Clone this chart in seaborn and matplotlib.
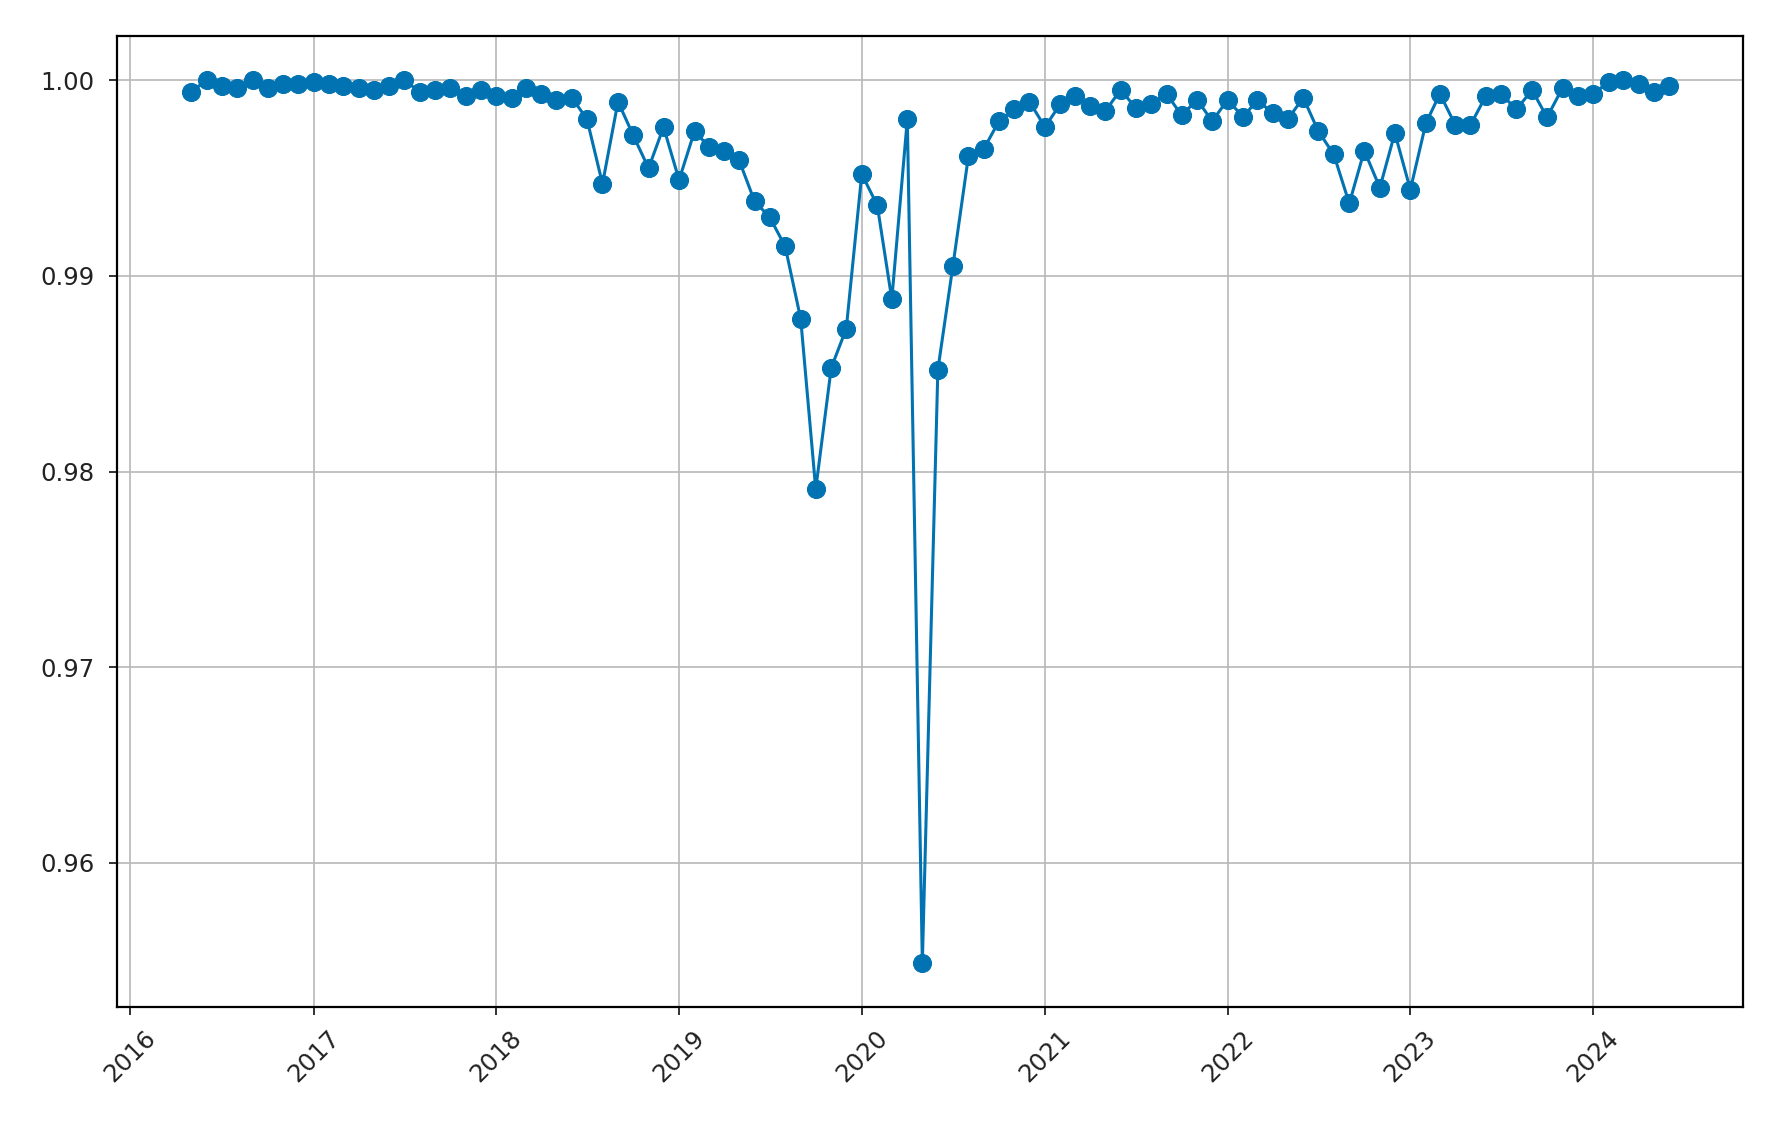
import pandas as pd
import seaborn as sns
import matplotlib.pyplot as plt
import matplotlib.dates as mdates

# monthly values, May 2016 - Jun 2024
months = pd.date_range("2016-05-01", "2024-06-01", freq="MS")

vals_2016 = [0.9994, 1.0000, 0.9997, 0.9996, 1.0000, 0.9996, 0.9998, 0.9998]
vals_2017 = [0.9999, 0.9998, 0.9997, 0.9996, 0.9995, 0.9997, 1.0000, 0.9994,
             0.9995, 0.9996, 0.9992, 0.9995]
vals_2018 = [0.9992, 0.9991, 0.9996, 0.9993, 0.9990, 0.9991, 0.9980, 0.9947,
             0.9989, 0.9972, 0.9955, 0.9976]
vals_2019 = [0.9949, 0.9974, 0.9966, 0.9964, 0.9959, 0.9938, 0.9930, 0.9915,
             0.9878, 0.9791, 0.9853, 0.9873]
vals_2020 = [0.9952, 0.9936, 0.9888, 0.9980, 0.9549, 0.9852, 0.9905, 0.9961,
             0.9965, 0.9979, 0.9985, 0.9989]
vals_2021 = [0.9976, 0.9988, 0.9992, 0.9987, 0.9984, 0.9995, 0.9986, 0.9988,
             0.9993, 0.9982, 0.9990, 0.9979]
vals_2022 = [0.9990, 0.9981, 0.9990, 0.9983, 0.9980, 0.9991, 0.9974, 0.9962,
             0.9937, 0.9964, 0.9945, 0.9973]
vals_2023 = [0.9944, 0.9978, 0.9993, 0.9977, 0.9977, 0.9992, 0.9993, 0.9985,
             0.9995, 0.9981, 0.9996, 0.9992]
vals_2024 = [0.9993, 0.9999, 1.0000, 0.9998, 0.9994, 0.9997]

values = (vals_2016 + vals_2017 + vals_2018 + vals_2019 + vals_2020
          + vals_2021 + vals_2022 + vals_2023 + vals_2024)

df = pd.DataFrame({"date": months, "value": values})

sns.set_style("ticks")
plt.rcParams["font.family"] = ["DejaVu Sans"]

fig, ax = plt.subplots(figsize=(17.75, 11.25), dpi=100)
fig.subplots_adjust(left=0.066, right=0.982, top=0.968, bottom=0.105)

color = "#0173b2"
sns.lineplot(data=df, x="date", y="value", ax=ax, color=color, marker="o",
             markersize=13, markeredgecolor=color, linewidth=2.2)

ax.grid(True, color="#b8b8b8", linewidth=1.2)
ax.xaxis.set_major_locator(mdates.YearLocator())
ax.xaxis.set_major_formatter(mdates.DateFormatter("%Y"))
ax.yaxis.set_major_formatter(plt.FormatStrFormatter("%.2f"))
ax.set_yticks([0.96, 0.97, 0.98, 0.99, 1.00])
ax.tick_params(axis="both", labelsize=17.5, length=6, width=1.3, colors="#222222")
ax.tick_params(axis="x", pad=8)
ax.tick_params(axis="y", pad=10)
plt.setp(ax.get_xticklabels(), rotation=45)
ax.set_xlabel("")
ax.set_ylabel("")
for s in ax.spines.values():
    s.set_color("black")
    s.set_linewidth(1.6)

fig.savefig("out.png", dpi=100)
